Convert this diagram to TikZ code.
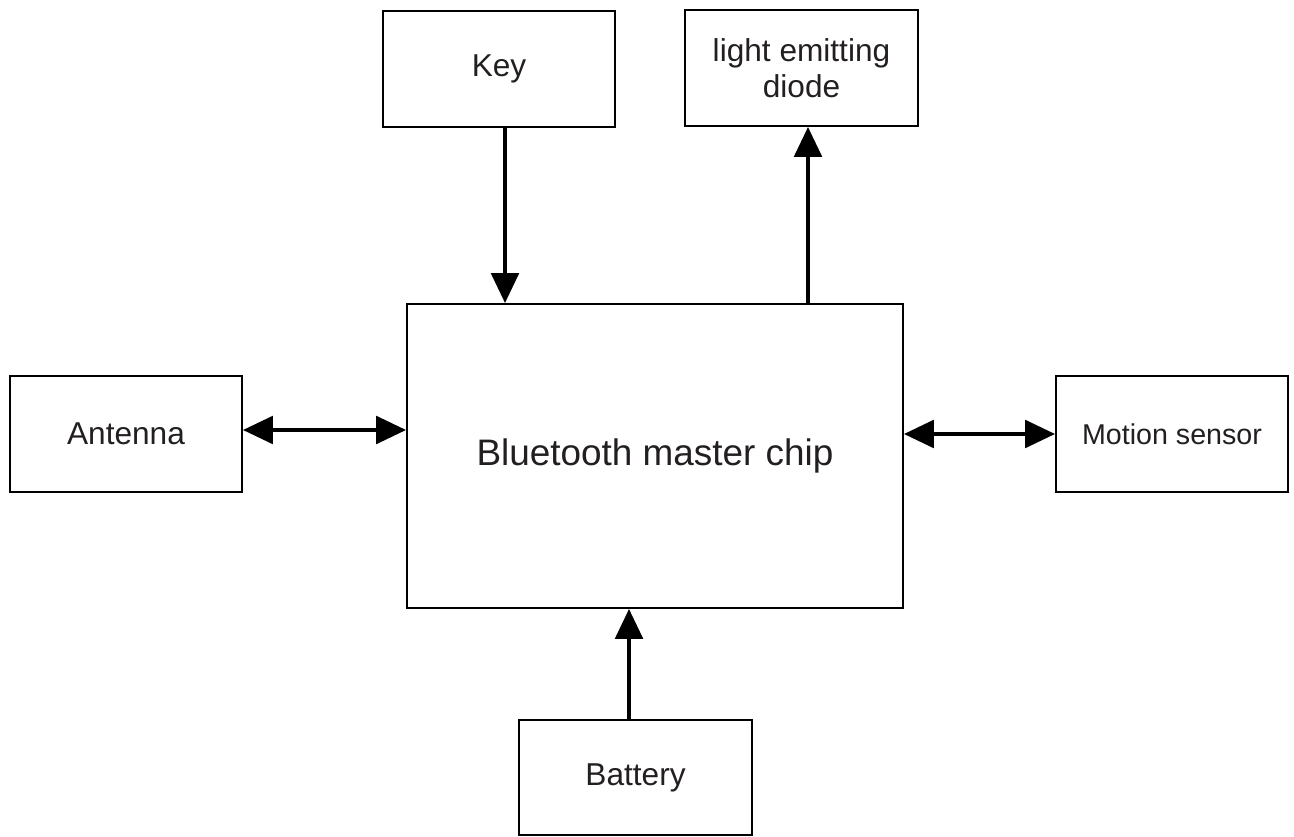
\documentclass[tikz,border=0pt]{standalone}
\usepackage{fontspec}
\setmainfont{Liberation Sans}
\usetikzlibrary{arrows.meta}
\definecolor{inkdark}{RGB}{35,31,32}
\tikzset{
  box/.style={draw, line width=1.1pt, minimum width=4.64cm, minimum height=2.32cm,
    inner sep=0pt, align=center, text=inkdark, font=\fontsize{18}{20.5}\selectfont},
  arr/.style={line width=2.3pt, -{Triangle[length=0.6cm,width=0.55cm]}},
  darr/.style={line width=2.3pt, {Triangle[length=0.6cm,width=0.55cm]}-{Triangle[length=0.6cm,width=0.55cm]}}
}
\begin{document}
\begin{tikzpicture}[x=0.02cm, y=-0.02cm]
  \useasboundingbox (0,0) rectangle (1294,837);
  % Blocks
  \node[box, minimum width=9.92cm, minimum height=6.08cm,
    font=\fontsize{21}{24}\selectfont] (chip) at (655,456) {Bluetooth master chip};
  \node[box] (key) at (499,69) {Key};
  \node[box, minimum width=4.66cm] (led) at (801.5,68) {light emitting\\diode};
  \node[box] (ant) at (126,434) {Antenna};
  \node[box, font=\fontsize{16.3}{19}\selectfont] (mot) at (1172,434) {Motion sensor};
  \node[box, minimum width=4.66cm, minimum height=2.30cm] (bat) at (635.5,777.5) {Battery};
  % Key to chip
  \coordinate (k) at ([xshift=0.12cm]key.south);
  \draw[arr] (k) -- (k |- chip.north);
  % Chip to diode
  \coordinate (l) at ([xshift=0.13cm]led.south);
  \draw[arr] (l |- chip.north) -- (l);
  % Antenna and sensor
  \coordinate (a) at ([yshift=0.08cm]ant.east);
  \draw[darr] (a) -- (a -| chip.west);
  \draw[darr] (chip.east |- mot.west) -- (mot.west);
  % Battery to chip
  \coordinate (b) at ([xshift=-0.13cm]bat.north);
  \draw[arr] (b) -- (b |- chip.south);
\end{tikzpicture}
\end{document}
